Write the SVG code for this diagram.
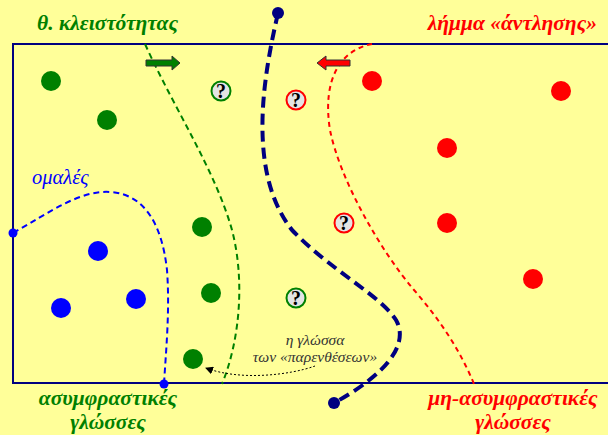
<svg xmlns="http://www.w3.org/2000/svg" width="608" height="435" viewBox="0 0 608 435">
<defs>
<style>
.title{font-family:"Liberation Serif","DejaVu Serif",serif;font-style:italic;font-weight:bold;font-size:21.5px}
.g{fill:#008000}.r{fill:#FF0000}.b{fill:#0000FF}
.q{fill:#E4E4E4;stroke-width:2}
.qt{font-family:"Liberation Serif",serif;font-weight:bold;font-size:20px;fill:#000;text-anchor:middle}
.note{font-family:"Liberation Serif",serif;font-style:italic;font-size:15.5px;fill:#333;text-anchor:middle}
</style>
<marker id="ah" markerWidth="8" markerHeight="8" refX="7" refY="4" orient="auto" markerUnits="userSpaceOnUse"><path d="M0,0 L8,4 L0,8 Z" fill="#000"/></marker>
</defs>
<rect width="608" height="435" fill="#FFFF99"/>
<rect x="13" y="44" width="600" height="339" fill="none" stroke="#000080" stroke-width="2"/>

<g id="labels">
<text class="title g" x="37" y="30">θ. κλειστότητας</text>
<text class="title r" x="597" y="30" text-anchor="end">λήμμα «άντλησης»</text>
<text x="32" y="184" font-family="Liberation Serif,serif" font-style="italic" font-size="20.5" fill="#0000FF">ομαλές</text>
<text class="title g" x="108" y="405" text-anchor="middle">ασυμφραστικές</text>
<text class="title g" x="108" y="429" text-anchor="middle">γλώσσες</text>
<text class="title r" x="513" y="405" text-anchor="middle">μη-ασυμφραστικές</text>
<text class="title r" x="513" y="429" text-anchor="middle">γλώσσες</text>
<text class="note" x="315" y="345">η γλώσσα</text>
<text class="note" x="315" y="362">των «παρενθέσεων»</text>
</g>

<g id="connectors" fill="none">
<path d="M13,233 C50,212 80,190 110,192 C145,194 162,225 167,270 C170,310 166,350 164,384" stroke="#0000FF" stroke-width="2" stroke-dasharray="6,4"/>
<path d="M145,44 C175,110 215,170 232,230 C245,280 240,340 222,384" stroke="#008000" stroke-width="2" stroke-dasharray="6,4"/>
<path d="M372,44 C340,50 322,80 330,130 C340,180 380,250 414,290 C440,320 460,350 474,384" stroke="#FF0000" stroke-width="2" stroke-dasharray="5,4"/>
<path d="M278,13 C265,70 245,170 292,230 C330,270 380,295 396,320 C410,345 385,375 334,403" stroke="#000080" stroke-width="4" stroke-dasharray="11,6"/>
<path d="M315,366 C290,375 240,381 206,368" stroke="#000" stroke-width="1" stroke-dasharray="2,2" marker-end="url(#ah)"/>
<circle cx="278" cy="13" r="6" fill="#000080"/>
<circle cx="334" cy="403" r="6" fill="#000080"/>
<circle cx="13" cy="233" r="4.5" fill="#0000FF"/>
<circle cx="164" cy="384" r="4.5" fill="#0000FF"/>
</g>

<g id="arrow-right"><path d="M146,60 L172,60 L172,56 L180,63 L172,70 L172,66 L146,66 Z" fill="#008000" stroke="#333" stroke-width="1"/></g>
<g id="arrow-left"><path d="M350,60 L326,60 L326,56 L317,63 L326,70 L326,66 L350,66 Z" fill="#FF0000" stroke="#333" stroke-width="1"/></g>

<g id="green-dots" class="g">
<circle cx="51" cy="81" r="10"/><circle cx="107" cy="120" r="10"/><circle cx="202" cy="227" r="10"/><circle cx="211" cy="293" r="10"/><circle cx="193" cy="359" r="10"/>
</g>
<g id="blue-dots" class="b">
<circle cx="98" cy="251" r="10"/><circle cx="61" cy="308" r="10"/><circle cx="136" cy="299" r="10"/>
</g>
<g id="red-dots" class="r">
<circle cx="372" cy="81" r="10"/><circle cx="561" cy="91" r="10"/><circle cx="447" cy="148" r="10"/><circle cx="447" cy="223" r="10"/><circle cx="533" cy="279" r="10"/>
</g>
<g id="q1"><circle class="q" cx="221" cy="91" r="9.5" stroke="#008000"/><text class="qt" x="221" y="98">?</text></g>
<g id="q2"><circle class="q" cx="296" cy="100" r="9.5" stroke="#FF0000"/><text class="qt" x="296" y="107">?</text></g>
<g id="q3"><circle class="q" cx="344" cy="223" r="9.5" stroke="#FF0000"/><text class="qt" x="344" y="230">?</text></g>
<g id="q4"><circle class="q" cx="296" cy="298" r="9.5" stroke="#008000"/><text class="qt" x="296" y="305">?</text></g>
</svg>
